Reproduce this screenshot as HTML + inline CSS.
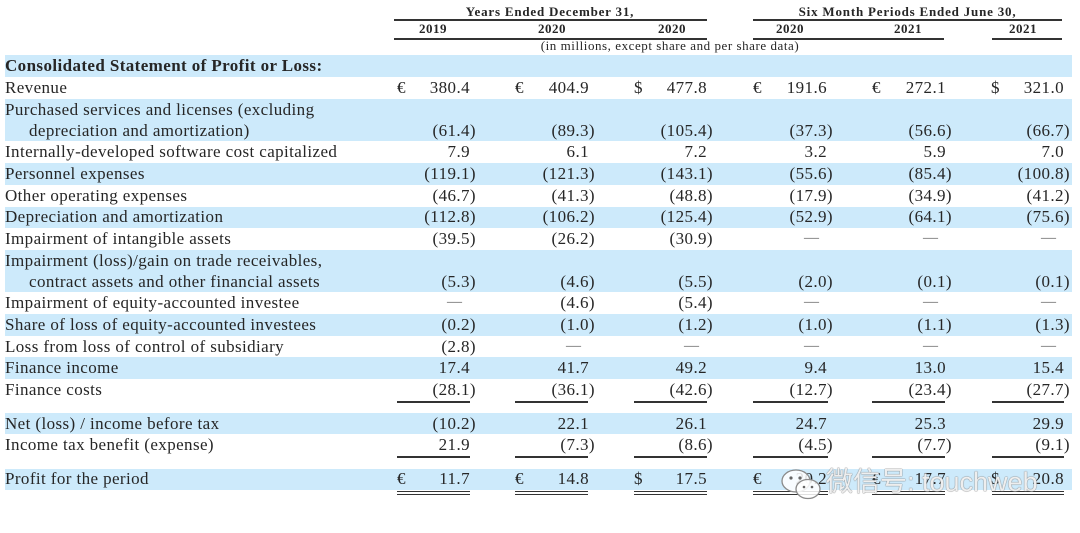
<!DOCTYPE html>
<html><head><meta charset="utf-8"><style>
html,body{margin:0;padding:0;background:#fff}
#w{position:relative;width:1080px;height:533px;overflow:hidden;background:#fff;font-family:"Liberation Serif",serif;color:#262626}
.b{position:absolute;left:5px;width:1067px;background:#cdeafb}
.r{position:absolute;left:0;width:1080px;height:22px}
.l{position:absolute;left:5px;top:0;font-size:17px;letter-spacing:0.4px;line-height:22px;white-space:nowrap}
.i{left:29px}
.v{position:absolute;top:0;font-size:17px;letter-spacing:0.4px;line-height:22px;white-space:nowrap;text-align:right}
.d{position:absolute;top:0;font-size:15px;line-height:21px;color:#666;white-space:nowrap}
.s{position:absolute;top:0;font-size:17px;line-height:22px}
.c1{right:610px}.c2{right:491px}.c3{right:373px}.c4{right:253px}.c5{right:134px}.c6{right:16px}
.n1{right:604px}.n2{right:485px}.n3{right:367px}.n4{right:247px}.n5{right:128px}.n6{right:10px}
.d1{right:618px}.d2{right:499px}.d3{right:381px}.d4{right:261px}.d5{right:142px}.d6{right:24px}
.s1{left:397px}.s2{left:515px}.s3{left:634px}.s4{left:753px}.s5{left:872px}.s6{left:991px}
.h{position:absolute;font-weight:bold;font-size:13px;letter-spacing:0.8px;line-height:16px;text-align:center;white-space:nowrap}
.y{position:absolute;top:21px;width:60px;font-weight:bold;font-size:13px;letter-spacing:0.5px;line-height:16px;text-align:center}
.ln{position:absolute;height:2px;background:#333}
.dl{position:absolute;height:2px;border-top:1.5px solid #333;border-bottom:1.5px solid #333}
</style></head><body><div id="w">

<!-- bands -->
<div class="b" style="top:55px;height:22px"></div>
<div class="b" style="top:99px;height:42px"></div>
<div class="b" style="top:163px;height:22px"></div>
<div class="b" style="top:207px;height:21px"></div>
<div class="b" style="top:250px;height:42px"></div>
<div class="b" style="top:314px;height:22px"></div>
<div class="b" style="top:357px;height:22px"></div>
<div class="b" style="top:413px;height:21px"></div>
<div class="b" style="top:469px;height:21px"></div>

<!-- header -->
<div class="h" style="left:393px;width:314px;top:4px">Years Ended December 31,</div>
<div class="h" style="left:753px;width:309px;top:4px">Six Month Periods Ended June 30,</div>
<div class="ln" style="top:19px;left:394px;width:313px"></div>
<div class="ln" style="top:19px;left:753px;width:309px"></div>
<div class="y" style="left:403px">2019</div>
<div class="y" style="left:522px">2020</div>
<div class="y" style="left:642px">2020</div>
<div class="y" style="left:760px">2020</div>
<div class="y" style="left:878px">2021</div>
<div class="y" style="left:993px">2021</div>
<div class="ln" style="top:38px;left:394px;width:313px"></div>
<div class="ln" style="top:38px;left:753px;width:191px"></div>
<div class="ln" style="top:38px;left:992px;width:70px"></div>
<div class="h" style="left:520px;width:300px;top:38px;font-weight:normal;letter-spacing:0.55px">(in millions, except share and per share data)</div>

<!-- rows -->
<div class="r" style="top:55px"><div class="l" style="font-weight:bold">Consolidated Statement of Profit or Loss:</div></div>

<div class="r" style="top:77px"><div class="l">Revenue</div>
<div class="s s1">€</div><div class="v c1">380.4</div>
<div class="s s2">€</div><div class="v c2">404.9</div>
<div class="s s3">$</div><div class="v c3">477.8</div>
<div class="s s4">€</div><div class="v c4">191.6</div>
<div class="s s5">€</div><div class="v c5">272.1</div>
<div class="s s6">$</div><div class="v c6">321.0</div></div>

<div class="r" style="top:99px"><div class="l">Purchased services and licenses (excluding</div></div>
<div class="r" style="top:120px"><div class="l i">depreciation and amortization)</div>
<div class="v n1">(61.4)</div><div class="v n2">(89.3)</div><div class="v n3">(105.4)</div><div class="v n4">(37.3)</div><div class="v n5">(56.6)</div><div class="v n6">(66.7)</div></div>

<div class="r" style="top:141px"><div class="l">Internally-developed software cost capitalized</div>
<div class="v c1">7.9</div><div class="v c2">6.1</div><div class="v c3">7.2</div><div class="v c4">3.2</div><div class="v c5">5.9</div><div class="v c6">7.0</div></div>

<div class="r" style="top:163px"><div class="l">Personnel expenses</div>
<div class="v n1">(119.1)</div><div class="v n2">(121.3)</div><div class="v n3">(143.1)</div><div class="v n4">(55.6)</div><div class="v n5">(85.4)</div><div class="v n6">(100.8)</div></div>

<div class="r" style="top:185px"><div class="l">Other operating expenses</div>
<div class="v n1">(46.7)</div><div class="v n2">(41.3)</div><div class="v n3">(48.8)</div><div class="v n4">(17.9)</div><div class="v n5">(34.9)</div><div class="v n6">(41.2)</div></div>

<div class="r" style="top:206px"><div class="l">Depreciation and amortization</div>
<div class="v n1">(112.8)</div><div class="v n2">(106.2)</div><div class="v n3">(125.4)</div><div class="v n4">(52.9)</div><div class="v n5">(64.1)</div><div class="v n6">(75.6)</div></div>

<div class="r" style="top:228px"><div class="l">Impairment of intangible assets</div>
<div class="v n1">(39.5)</div><div class="v n2">(26.2)</div><div class="v n3">(30.9)</div><div class="d d4">—</div><div class="d d5">—</div><div class="d d6">—</div></div>

<div class="r" style="top:250px"><div class="l">Impairment (loss)/gain on trade receivables,</div></div>
<div class="r" style="top:271px"><div class="l i">contract assets and other financial assets</div>
<div class="v n1">(5.3)</div><div class="v n2">(4.6)</div><div class="v n3">(5.5)</div><div class="v n4">(2.0)</div><div class="v n5">(0.1)</div><div class="v n6">(0.1)</div></div>

<div class="r" style="top:292px"><div class="l">Impairment of equity-accounted investee</div>
<div class="d d1">—</div><div class="v n2">(4.6)</div><div class="v n3">(5.4)</div><div class="d d4">—</div><div class="d d5">—</div><div class="d d6">—</div></div>

<div class="r" style="top:314px"><div class="l">Share of loss of equity-accounted investees</div>
<div class="v n1">(0.2)</div><div class="v n2">(1.0)</div><div class="v n3">(1.2)</div><div class="v n4">(1.0)</div><div class="v n5">(1.1)</div><div class="v n6">(1.3)</div></div>

<div class="r" style="top:336px"><div class="l">Loss from loss of control of subsidiary</div>
<div class="v n1">(2.8)</div><div class="d d2">—</div><div class="d d3">—</div><div class="d d4">—</div><div class="d d5">—</div><div class="d d6">—</div></div>

<div class="r" style="top:357px"><div class="l">Finance income</div>
<div class="v c1">17.4</div><div class="v c2">41.7</div><div class="v c3">49.2</div><div class="v c4">9.4</div><div class="v c5">13.0</div><div class="v c6">15.4</div></div>

<div class="r" style="top:379px"><div class="l">Finance costs</div>
<div class="v n1">(28.1)</div><div class="v n2">(36.1)</div><div class="v n3">(42.6)</div><div class="v n4">(12.7)</div><div class="v n5">(23.4)</div><div class="v n6">(27.7)</div></div>

<div class="ln" style="top:401px;left:397px;width:73px"></div>
<div class="ln" style="top:401px;left:515px;width:73px"></div>
<div class="ln" style="top:401px;left:634px;width:73px"></div>
<div class="ln" style="top:401px;left:753px;width:75px"></div>
<div class="ln" style="top:401px;left:872px;width:73px"></div>
<div class="ln" style="top:401px;left:992px;width:72px"></div>

<div class="r" style="top:413px"><div class="l">Net (loss) / income before tax</div>
<div class="v n1">(10.2)</div><div class="v c2">22.1</div><div class="v c3">26.1</div><div class="v c4">24.7</div><div class="v c5">25.3</div><div class="v c6">29.9</div></div>

<div class="r" style="top:434px"><div class="l">Income tax benefit (expense)</div>
<div class="v c1">21.9</div><div class="v n2">(7.3)</div><div class="v n3">(8.6)</div><div class="v n4">(4.5)</div><div class="v n5">(7.7)</div><div class="v n6">(9.1)</div></div>

<div class="ln" style="top:456px;left:397px;width:73px"></div>
<div class="ln" style="top:456px;left:515px;width:73px"></div>
<div class="ln" style="top:456px;left:634px;width:73px"></div>
<div class="ln" style="top:456px;left:753px;width:75px"></div>
<div class="ln" style="top:456px;left:872px;width:73px"></div>
<div class="ln" style="top:456px;left:992px;width:72px"></div>

<div class="r" style="top:468px"><div class="l">Profit for the period</div>
<div class="s s1">€</div><div class="v c1">11.7</div>
<div class="s s2">€</div><div class="v c2">14.8</div>
<div class="s s3">$</div><div class="v c3">17.5</div>
<div class="s s4">€</div><div class="v c4">20.2</div>
<div class="s s5">€</div><div class="v c5">17.7</div>
<div class="s s6">$</div><div class="v c6">20.8</div></div>

<div class="dl" style="top:491px;left:397px;width:73px"></div>
<div class="dl" style="top:491px;left:515px;width:73px"></div>
<div class="dl" style="top:491px;left:634px;width:73px"></div>
<div class="dl" style="top:491px;left:753px;width:75px"></div>
<div class="dl" style="top:491px;left:872px;width:73px"></div>
<div class="dl" style="top:491px;left:992px;width:72px"></div>

<!-- watermark -->
<svg style="position:absolute;left:780px;top:468px" width="46" height="34" viewBox="0 0 46 34">
<ellipse cx="16" cy="13" rx="14" ry="11" fill="rgba(255,255,255,0.85)" stroke="#8a8a8a" stroke-width="1.3"/>
<ellipse cx="28" cy="21" rx="12" ry="9.5" fill="rgba(255,255,255,0.85)" stroke="#8a8a8a" stroke-width="1.3"/>
<circle cx="11" cy="10" r="1.6" fill="#666"/><circle cx="20" cy="10" r="1.6" fill="#666"/>
<circle cx="24" cy="19" r="1.3" fill="#666"/><circle cx="32" cy="19" r="1.3" fill="#666"/>
</svg>
<div style="position:absolute;left:826px;top:465px;font-family:'Liberation Sans','Noto Sans CJK SC',sans-serif;font-size:27px;line-height:34px;color:rgba(255,255,255,0.88);text-shadow:0 0 1px #777,0 0 1px #777;white-space:nowrap">微信号: touchweb</div>

</div></body></html>
